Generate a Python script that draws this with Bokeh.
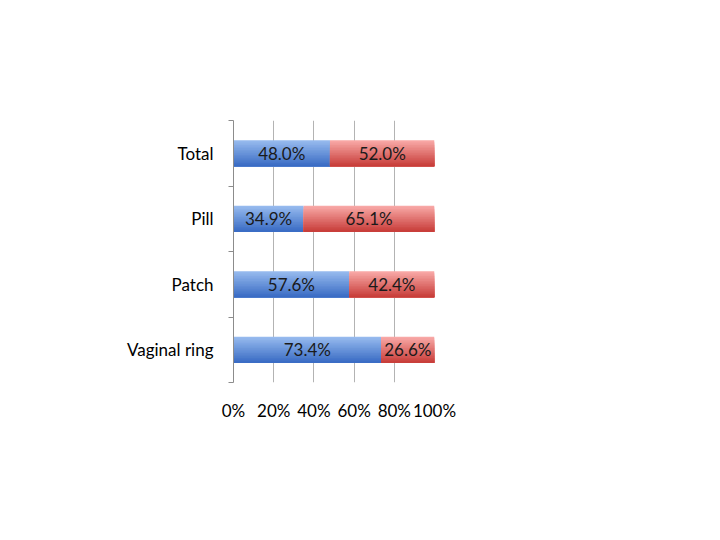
from bokeh.plotting import figure
from bokeh.models import Range1d, FixedTicker, ColumnDataSource
from bokeh.core.properties import value
from bokeh.embed import file_html
from bokeh.resources import INLINE

categories = ["Total", "Pill", "Patch", "Vaginal ring"]
series_a = [48.0, 34.9, 57.6, 73.4]   # blue
series_b = [52.0, 65.1, 42.4, 26.6]   # red
x_ticks = [0, 20, 40, 60, 80, 100]
x_tick_labels = ["0%", "20%", "40%", "60%", "80%", "100%"]

FONT = "Lato"
n = len(categories)
ypos = [n - i - 0.5 for i in range(n)]

p = figure(frame_width=201, frame_height=262, output_backend="svg", toolbar_location=None,
           x_range=Range1d(0, 100), y_range=Range1d(0, n),
           min_border_left=233, min_border_right=270, min_border_top=120, min_border_bottom=140)
p.outline_line_color = None
p.background_fill_color = "white"
p.border_fill_color = "white"

# grid
p.ygrid.visible = False
p.xgrid.ticker = FixedTicker(ticks=x_ticks[1:])
p.xgrid.grid_line_color = "#b3b3b3"
p.xgrid.grid_line_width = 1

# x axis
p.xaxis.ticker = FixedTicker(ticks=x_ticks)
p.xaxis.major_label_overrides = {t: l for t, l in zip(x_ticks, x_tick_labels)}
p.xaxis.axis_line_color = None
p.xaxis.major_tick_line_color = None
p.xaxis.minor_tick_line_color = None
p.xaxis.major_label_standoff = 11
p.xaxis.major_label_text_font = FONT
p.xaxis.major_label_text_font_size = "17px"
p.xaxis.major_label_text_color = "#000000"

# y axis
p.yaxis.ticker = FixedTicker(ticks=ypos, minor_ticks=list(range(n + 1)))
p.yaxis.major_label_overrides = {y: c for y, c in zip(ypos, categories)}
p.yaxis.axis_line_color = "#8c8c8c"
p.yaxis.major_tick_line_color = None
p.yaxis.minor_tick_line_color = "#8c8c8c"
p.yaxis.minor_tick_out = 5
p.yaxis.minor_tick_in = 0
p.yaxis.major_label_standoff = 14
p.yaxis.major_label_text_font = FONT
p.yaxis.major_label_text_font_size = "17px"
p.yaxis.major_label_text_color = "#000000"

# bars with vertical gradient (nested rectangles, each reaching the bar bottom)
H = 0.4
K = 16
def lerp(c1, c2, t):
    return "#%02x%02x%02x" % tuple(int(round(a + (b - a) * t)) for a, b in zip(c1, c2))

blue_top, blue_bot = (150, 186, 238), (58, 108, 196)
red_top, red_bot = (248, 168, 166), (200, 62, 58)

for (lefts, rights, ctop, cbot) in [
    ([0] * n, series_a, blue_top, blue_bot),
    (series_a, [a + b for a, b in zip(series_a, series_b)], red_top, red_bot),
]:
    ys, hs, ls, rs, cs = [], [], [], [], []
    for k in range(K):
        t = k / (K - 1)
        col = lerp(ctop, cbot, t)
        for i in range(n):
            top = ypos[i] + H / 2 - k * H / K
            bot = ypos[i] - H / 2
            ys.append((top + bot) / 2)
            hs.append(top - bot)
            ls.append(lefts[i])
            rs.append(rights[i])
            cs.append(col)
    src = ColumnDataSource(dict(y=ys, h=hs, left=ls, right=rs, color=cs))
    p.hbar(y="y", left="left", right="right", height="h", fill_color="color",
           line_color=None, source=src)

# labels
lx, ly, lt = [], [], []
for i in range(n):
    lx.append(series_a[i] / 2); ly.append(ypos[i]); lt.append("%.1f%%" % series_a[i])
    lx.append(series_a[i] + series_b[i] / 2); ly.append(ypos[i]); lt.append("%.1f%%" % series_b[i])
p.text(x=lx, y=ly, text=lt, text_align="center", text_baseline="middle",
       text_font=value(FONT), text_font_size="17px", text_color="#1a1a1a")

open("out.html", "w").write(file_html(p, INLINE))
